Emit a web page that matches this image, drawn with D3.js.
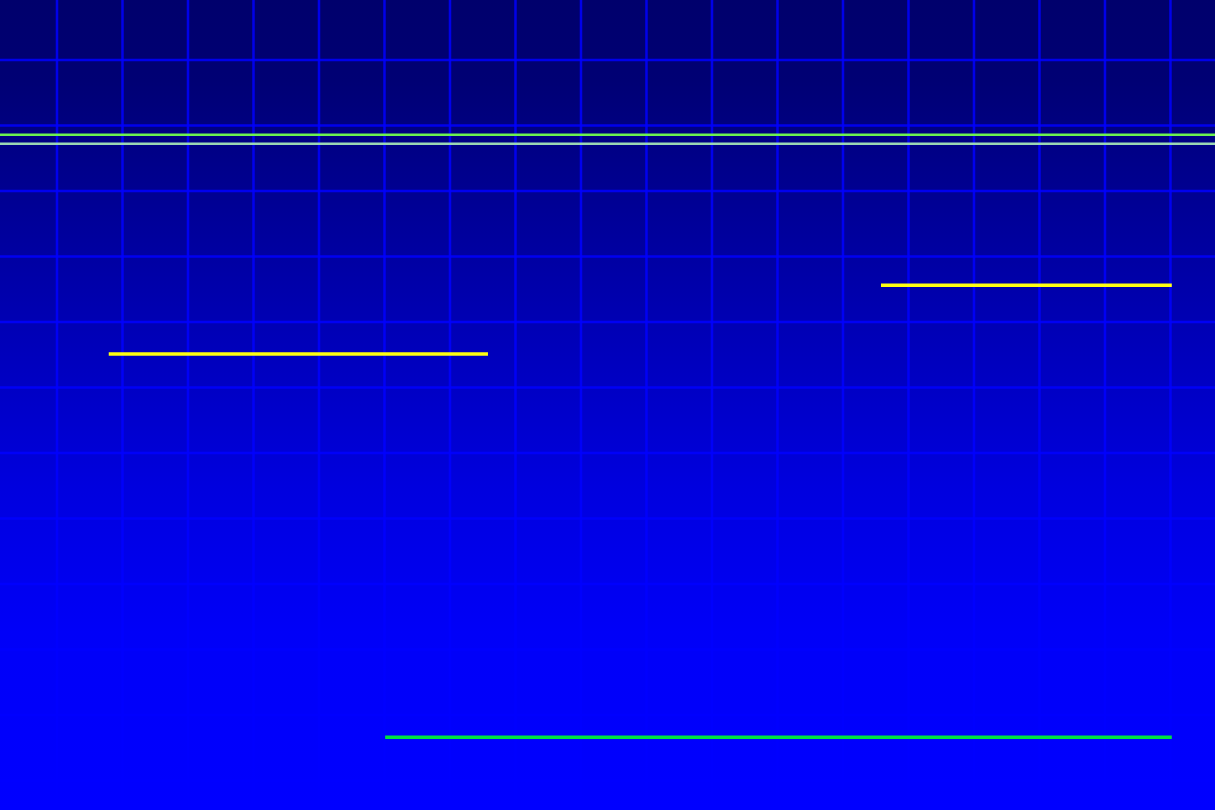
<!DOCTYPE html>
<html>
<head>
<meta charset="utf-8">
<script src="https://cdn.jsdelivr.net/npm/d3@7"></script>
<style>
    html, body {
        margin: 0;
        padding: 0;
        background: #000070;
        overflow: hidden;
    }
    svg {
        display: block;
    }
</style>
</head>
<body>
<svg id="chart" width="1215" height="810"></svg>
<script>
    // grid positions, in grid units
    const xTicks = d3.range(1, 19);
    const yTicks = d3.range(1, 13);

    // horizontal segments: start, end, level (grid units)
    const yellowSegments = [
        { x1: 1.79, x2: 7.58, y: 5.49 },
        { x1: 13.58, x2: 18.02, y: 4.44 },
    ];
    const greenSegments = [{ x1: 6.01, x2: 18.02, y: 11.34 }];
    const referenceLines = [
        { y: 2.14, color: "#6cf250" },
        { y: 2.28, color: "#9cd8b4" },
    ];

    const width = 1215,
        height = 810;
    const svg = d3.select("#chart");

    // one grid unit = 65.5px
    const x = d3.scaleLinear().domain([0, 18.55]).range([-8.5, 1206.5]);
    const y = d3.scaleLinear().domain([0, 12.45]).range([-5.5, 810]);

    const defs = svg.append("defs");
    const grad = defs
        .append("linearGradient")
        .attr("id", "bg")
        .attr("x1", 0)
        .attr("y1", 0)
        .attr("x2", 0)
        .attr("y2", 1);
    grad.append("stop").attr("offset", "0%").attr("stop-color", "#00006c");
    grad.append("stop").attr("offset", "10%").attr("stop-color", "#000074");
    grad.append("stop").attr("offset", "40%").attr("stop-color", "#0000b4");
    grad.append("stop").attr("offset", "60%").attr("stop-color", "#0000de");
    grad.append("stop").attr("offset", "78%").attr("stop-color", "#0000f8");
    grad.append("stop").attr("offset", "100%").attr("stop-color", "#0000ff");

    svg.append("rect")
        .attr("width", width)
        .attr("height", height)
        .attr("fill", "url(#bg)");

    // grid (pure blue, so it fades out as the background brightens)
    const grid = svg.append("g").attr("class", "grid");
    grid.selectAll(".vline")
        .data(xTicks)
        .enter()
        .append("line")
        .attr("class", "vline")
        .attr("x1", (d) => x(d))
        .attr("x2", (d) => x(d))
        .attr("y1", 0)
        .attr("y2", height)
        .attr("stroke", "#0000ff")
        .attr("stroke-opacity", 0.85)
        .attr("stroke-width", 2.5);
    grid.selectAll(".hline")
        .data(yTicks)
        .enter()
        .append("line")
        .attr("class", "hline")
        .attr("x1", 0)
        .attr("x2", width)
        .attr("y1", (d) => y(d))
        .attr("y2", (d) => y(d))
        .attr("stroke", "#0000ff")
        .attr("stroke-opacity", 0.85)
        .attr("stroke-width", 2.5);

    // two thin lines across the top
    svg.selectAll(".ref")
        .data(referenceLines)
        .enter()
        .append("line")
        .attr("class", "ref")
        .attr("x1", 0)
        .attr("x2", width)
        .attr("y1", (d) => y(d.y))
        .attr("y2", (d) => y(d.y))
        .attr("stroke", (d) => d.color)
        .attr("stroke-width", 2.5);

    svg.selectAll(".yellow")
        .data(yellowSegments)
        .enter()
        .append("line")
        .attr("class", "yellow")
        .attr("x1", (d) => x(d.x1))
        .attr("x2", (d) => x(d.x2))
        .attr("y1", (d) => y(d.y))
        .attr("y2", (d) => y(d.y))
        .attr("stroke", "#ffff10")
        .attr("stroke-width", 3.5);

    svg.selectAll(".green")
        .data(greenSegments)
        .enter()
        .append("line")
        .attr("class", "green")
        .attr("x1", (d) => x(d.x1))
        .attr("x2", (d) => x(d.x2))
        .attr("y1", (d) => y(d.y))
        .attr("y2", (d) => y(d.y))
        .attr("stroke", "#00e040")
        .attr("stroke-width", 3.5);
</script>
</body>
</html>
